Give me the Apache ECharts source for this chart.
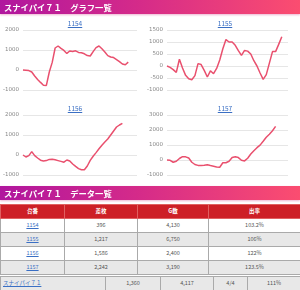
<!DOCTYPE html>
<html><head><meta charset="utf-8">
<script src="https://cdn.jsdelivr.net/npm/echarts@6/dist/echarts.min.js"></script>
<style>
html,body{margin:0;padding:0;width:300px;height:290px;overflow:hidden;background:#fff;font-family:"Noto Sans CJK JP","Noto Sans",sans-serif;}
.hdr{position:absolute;left:0;width:300px;height:14px;background:linear-gradient(90deg,#b0169e 0%,#d42a8a 45%,#fb4d70 100%);color:#fff;font-weight:bold;font-size:8.3px;line-height:14px;padding-left:4px;box-sizing:border-box;box-shadow:0 1px 2px rgba(200,40,120,0.35);z-index:2;white-space:pre;}
#chart{position:absolute;left:0;top:0;width:300px;height:186px;}
.ttl{position:absolute;width:150px;text-align:center;font-size:6.5px;color:#3a6fc4;text-decoration:underline;z-index:3;}
table{position:absolute;left:0;width:300px;border-collapse:collapse;table-layout:fixed;font-size:5.5px;color:#555;}
td,th{border:1px solid #aaa;text-align:center;padding:0;height:13px;line-height:13px;overflow:hidden;white-space:nowrap;}
th{background:#cd1f26;color:#fff;font-weight:bold;border-color:#e06060;}
tr.g td{background:#e8e8e8;}
a{color:#3a6fc4;text-decoration:underline;}
</style></head><body>
<div class="hdr" style="top:0">スナイパイ７１　グラフ一覧</div>
<div id="chart"></div>
<div class="hdr" style="top:186px">スナイパイ７１　データ一覧</div>
<div id="tables"></div>
<script>
const machines = ["1154","1155","1156","1157"];
const diffs = ["396","1,217","1,586","2,242"];
const games = ["4,130","6,750","2,400","3,190"];
const rates = ["103.2%","106%","122%","123.5%"];
const totalRow = ["スナイパイ７１","1,360","4,117","4/4","111%"];
const headers = ["台番","差枚","G数","出率"];

const s1154 = [0,-10,-30,-100,-300,-470,-620,-760,-770,-100,380,1100,1200,1080,980,830,950,930,960,880,860,810,720,700,920,1120,1200,1060,900,720,650,620,520,420,300,260,396];
const s1155 = [0,-60,-150,-265,280,-80,-390,-530,-570,-400,100,60,-180,-460,-200,-320,-100,250,720,1100,1000,1000,860,640,440,650,620,500,220,0,-290,-560,-360,120,600,600,900,1217];
const s1156 = [0,-100,-30,170,-30,-150,-260,-300,-280,-220,-210,-240,-280,-320,-360,-250,-300,-450,-570,-680,-740,-740,-550,-270,-60,120,310,490,650,800,1000,1200,1400,1500,1586];
const s1157 = [0,-20,-150,-80,100,220,210,130,-150,-300,-360,-370,-350,-320,-370,-410,-460,-480,-180,-180,-80,160,210,160,-20,-60,120,400,620,820,990,1250,1520,1720,1950,2242];
const series = [s1154,s1155,s1156,s1157];
const yMin = [-1000,-1000,-1000,-1000];
const yMax = [2000,1500,2000,3000];
const yStep = [1000,500,1000,1000];
const slots = 40;

const pos = [[0,18],[150,18],[0,103],[150,103]];
machines.forEach((m,i)=>{
  const d=document.createElement('div');d.className='ttl';d.textContent=m;
  d.style.left=pos[i][0]+'px';d.style.top=pos[i][1]+'px';document.body.appendChild(d);
});

const grids=[
  {left:17,width:120,top:30,height:60},
  {left:167,width:121,top:30,height:60},
  {left:17,width:120,top:115,height:60},
  {left:167,width:121,top:115,height:60}
];
const cats=[];for(let i=0;i<slots;i++)cats.push(String(i));
const opt={animation:false,grid:grids,xAxis:[],yAxis:[],series:[]};
series.forEach((s,i)=>{
  opt.xAxis.push({type:'category',gridIndex:i,data:cats,boundaryGap:false,axisLine:{show:false},axisTick:{show:false},axisLabel:{show:false},splitLine:{show:false}});
  opt.yAxis.push({type:'value',gridIndex:i,min:yMin[i],max:yMax[i],interval:yStep[i],axisLine:{show:false},axisTick:{show:false},
    axisLabel:{fontSize:5.5,color:'#888',margin:4,fontFamily:'DejaVu Sans',formatter:v=>String(v)},splitLine:{lineStyle:{color:'#e6e6e6',width:1}}});
  opt.series.push({type:'line',xAxisIndex:i,yAxisIndex:i,data:s,showSymbol:false,lineStyle:{color:'#e9506e',width:1.5},itemStyle:{color:'#e9506e'}});
});
echarts.init(document.getElementById('chart'),null,{renderer:'canvas'}).setOption(opt);

let h='<table style="top:204px"><colgroup><col style="width:64px"><col style="width:73px"><col style="width:71px"><col style="width:92px"></colgroup><tr>';
headers.forEach(t=>h+='<th>'+t+'</th>');h+='</tr>';
machines.forEach((m,i)=>{
  h+='<tr class="'+(i%2?'g':'')+'"><td><a>'+m+'</a></td><td>'+diffs[i]+'</td><td>'+games[i]+'</td><td>'+rates[i]+'</td></tr>';
});
h+='</table>';
h+='<table style="top:276px"><colgroup><col style="width:105px"><col style="width:55px"><col style="width:53px"><col style="width:34px"><col style="width:53px"></colgroup><tr class="g">';
totalRow.forEach((t,i)=>{h+= i===0?'<td style="text-align:left;padding-left:2px"><a>'+t+'</a></td>':'<td>'+t+'</td>';});
h+='</tr></table>';
document.getElementById('tables').innerHTML=h;
</script>
</body></html>
